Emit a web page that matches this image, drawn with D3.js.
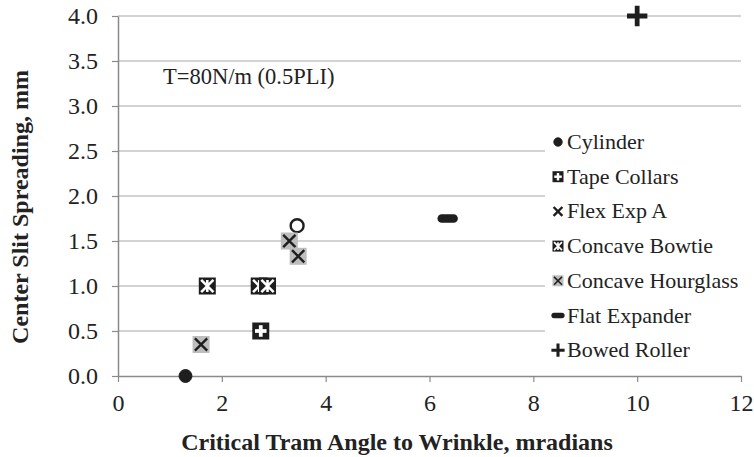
<!DOCTYPE html>
<html>
<head>
<meta charset="utf-8">
<script src="https://cdn.jsdelivr.net/npm/d3@7/dist/d3.min.js"></script>
<style>
  html, body { margin: 0; padding: 0; background: #fff; }
  svg { display: block; }
  svg text { font-family: "Liberation Serif", Tinos, "Times New Roman", "DejaVu Serif", serif !important; fill: #222; }
</style>
</head>
<body>
<svg id="chart" width="754" height="457"></svg>
<script>
// Series: critical tram angle (mrad) vs. center slit spreading (mm)
const seriesNames = ["Cylinder", "Tape Collars", "Flex Exp A", "Concave Bowtie",
                     "Concave Hourglass", "Flat Expander", "Bowed Roller"];
const cylinderX  = [1.3, 3.45];
const cylinderY  = [0.0, 1.67];
const tapeX      = [2.75];
const tapeY      = [0.5];
const flexX      = [];          // no measured points in this set
const flexY      = [];
const bowtieX    = [1.72, 2.72, 2.88];
const bowtieY    = [1.0, 1.0, 1.0];
const hourglassX = [1.6, 3.3, 3.47];
const hourglassY = [0.35, 1.5, 1.33];
const flatX      = [6.35];
const flatY      = [1.75];
const bowedX     = [10.0];
const bowedY     = [4.0];

const xTicks = [0, 2, 4, 6, 8, 10, 12];
const yTicks = [0, 0.5, 1, 1.5, 2, 2.5, 3, 3.5, 4];
const xTitle = "Critical Tram Angle to Wrinkle, mradians";
const yTitle = "Center Slit Spreading, mm";
const note   = "T=80N/m (0.5PLI)";

const svg = d3.select("#chart");
const x = d3.scaleLinear().domain([0, 12]).range([118, 741]);
const y = d3.scaleLinear().domain([0, 4]).range([376, 16]);

const gridColor = "#c4c4c4", axisColor = "#8a8a8a", ink = "#1e1e1e";

// horizontal gridlines
svg.append("g").selectAll("line").data(yTicks.filter(d => d > 0)).join("line")
  .attr("x1", x(0)).attr("x2", x(12))
  .attr("y1", d => y(d)).attr("y2", d => y(d))
  .attr("stroke", gridColor).attr("stroke-width", 1.5);

// axes
const yAxis = svg.append("g").attr("transform", `translate(${x(0)},0)`)
  .call(d3.axisLeft(y).tickValues(yTicks).tickFormat(d3.format(".1f"))
        .tickSize(6).tickSizeOuter(0).tickPadding(14));
const xAxis = svg.append("g").attr("transform", `translate(0,${y(0)})`)
  .call(d3.axisBottom(x).tickValues(xTicks).tickFormat(d3.format("d"))
        .tickSize(6).tickSizeOuter(0).tickPadding(12));
[yAxis, xAxis].forEach(g => {
  g.attr("font-family", null);
  g.select(".domain").attr("stroke", axisColor).attr("stroke-width", 1.5);
  g.selectAll(".tick line").attr("stroke", axisColor).attr("stroke-width", 1.2);
  g.selectAll(".tick text").attr("font-size", 24).attr("fill", "#222");
});

// titles
svg.append("text").attr("x", 397).attr("y", 450).attr("text-anchor", "middle")
  .attr("font-size", 24).attr("font-weight", "bold").text(xTitle);
svg.append("text").attr("transform", "translate(28,207) rotate(-90)")
  .attr("text-anchor", "middle").attr("font-size", 24).attr("font-weight", "bold").text(yTitle);

// annotation
svg.append("text").attr("x", 163).attr("y", 84).attr("font-size", 22.5).text(note);

// marker painters, s = nominal size
const painters = {
  "Cylinder": (g, s, open) => {
    g.append("circle").attr("r", s * 0.38)
      .attr("fill", open ? "#fff" : ink)
      .attr("stroke", ink).attr("stroke-width", open ? 2.4 : 1);
  },
  "Tape Collars": (g, s) => {
    g.append("rect").attr("x", -s / 2).attr("y", -s / 2).attr("width", s).attr("height", s).attr("fill", ink);
    const a = s * 0.34, w = s * 0.22;
    g.append("rect").attr("x", -a).attr("y", -w / 2).attr("width", 2 * a).attr("height", w).attr("fill", "#fff");
    g.append("rect").attr("x", -w / 2).attr("y", -a).attr("width", w).attr("height", 2 * a).attr("fill", "#fff");
  },
  "Flex Exp A": (g, s) => {
    const a = s * 0.4;
    g.append("path").attr("d", `M${-a},${-a}L${a},${a}M${a},${-a}L${-a},${a}`)
      .attr("stroke", ink).attr("stroke-width", s * 0.22);
  },
  "Concave Bowtie": (g, s) => {
    g.append("rect").attr("x", -s / 2).attr("y", -s / 2).attr("width", s).attr("height", s).attr("fill", ink);
    const a = s * 0.36;
    g.append("path").attr("d", `M${-a},${-a}L${a},${a}M${a},${-a}L${-a},${a}M0,${-a}L0,${a}`)
      .attr("stroke", "#fff").attr("stroke-width", s * 0.15);
  },
  "Concave Hourglass": (g, s) => {
    g.append("rect").attr("x", -s / 2).attr("y", -s / 2).attr("width", s).attr("height", s).attr("fill", "#bdbdbd");
    const a = s * 0.36;
    g.append("path").attr("d", `M${-a},${-a}L${a},${a}M${a},${-a}L${-a},${a}`)
      .attr("stroke", ink).attr("stroke-width", s * 0.14);
  },
  "Flat Expander": (g, s) => {
    const w = s * 1.2, h = s * 0.5;
    g.append("rect").attr("x", -w / 2).attr("y", -h / 2).attr("width", w).attr("height", h)
      .attr("rx", h / 2).attr("fill", ink);
  },
  "Bowed Roller": (g, s) => {
    const a = s * 0.6;
    g.append("path").attr("d", `M${-a},0L${a},0M0,${-a}L0,${a}`)
      .attr("stroke", ink).attr("stroke-width", s * 0.28);
  }
};

const series = [
  { name: "Cylinder", xs: cylinderX, ys: cylinderY },
  { name: "Tape Collars", xs: tapeX, ys: tapeY },
  { name: "Flex Exp A", xs: flexX, ys: flexY },
  { name: "Concave Bowtie", xs: bowtieX, ys: bowtieY },
  { name: "Concave Hourglass", xs: hourglassX, ys: hourglassY },
  { name: "Flat Expander", xs: flatX, ys: flatY },
  { name: "Bowed Roller", xs: bowedX, ys: bowedY }
];

// points (Cylinder's second point is drawn hollow)
const plot = svg.append("g");
series.forEach(sr => {
  sr.xs.forEach((v, i) => {
    const g = plot.append("g").attr("transform", `translate(${x(v)},${y(sr.ys[i])})`);
    painters[sr.name](g, 17, sr.name === "Cylinder" && i === 1);
  });
});

// legend
const lg = svg.append("g");
lg.append("rect").attr("x", 545).attr("y", 124).attr("width", 200).attr("height", 244).attr("fill", "#fff");
seriesNames.forEach((n, i) => {
  const cy = 142 + i * 34.7;
  const g = lg.append("g").attr("transform", `translate(558,${cy})`);
  painters[n](g, 11, false);
  lg.append("text").attr("x", 567).attr("y", cy + 7).attr("font-size", 22).text(n);
});
</script>
</body>
</html>
